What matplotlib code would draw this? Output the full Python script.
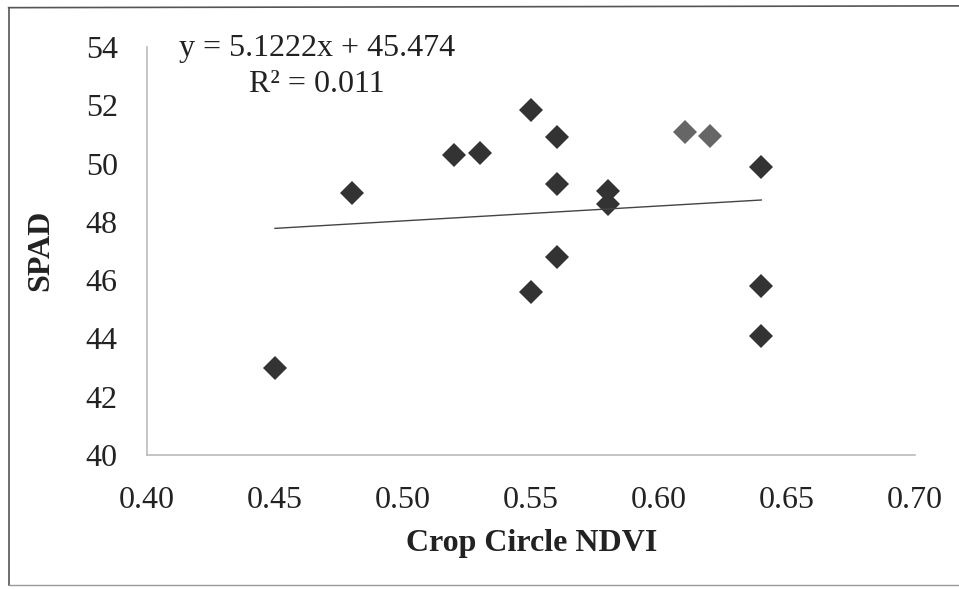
import numpy as np
import matplotlib.pyplot as plt
from matplotlib.lines import Line2D

plt.rcParams['font.family'] = ['Liberation Serif', 'DejaVu Serif']

# Crop Circle NDVI readings against SPAD meter values
ndvi = [0.45, 0.48, 0.52, 0.53, 0.55, 0.56, 0.56, 0.58, 0.58, 0.56, 0.55, 0.64, 0.64, 0.64]
spad = [43.0, 49.0, 50.3, 50.35, 51.85, 50.9, 49.3, 49.05, 48.6, 46.8, 45.6, 49.9, 45.8, 44.1]

# two readings printed lighter
ndvi_light = [0.61, 0.62]
spad_light = [51.1, 50.95]

slope = 5.1222
intercept = 45.474
r2 = 0.011

xticks = [0.40, 0.45, 0.50, 0.55, 0.60, 0.65, 0.70]
yticks = [40, 42, 44, 46, 48, 50, 52, 54]

fig = plt.figure(figsize=(9.59, 5.89), dpi=100)
ax = fig.add_axes([0.1533, 0.2275, 0.8007, 0.6925])

ax.plot(ndvi, spad, 'D', color='#333333', markersize=12, markeredgewidth=0)
ax.plot(ndvi_light, spad_light, 'D', color='#666666', markersize=12, markeredgewidth=0)

# linear trendline across the range of the data
all_x = ndvi + ndvi_light
xs = np.array([min(all_x), max(all_x)])
ax.plot(xs, slope * xs + intercept, color='#444444', lw=1.0)

ax.text(0.221, 0.953, f"y = {slope}x + {intercept}\nR² = {r2}",
        transform=ax.transAxes, ha='center', va='center',
        fontsize=23, color='#222222', linespacing=1.33)

ax.set_xlim(0.40, 0.70)
ax.set_ylim(40, 54)
ax.set_xticks(xticks)
ax.set_xticklabels([f"{t:.2f}" for t in xticks])
ax.set_yticks(yticks)
ax.tick_params(length=0, labelsize=23, colors='#222222')
ax.tick_params(axis='y', pad=21)
ax.tick_params(axis='x', pad=22)

for side in ['top', 'right']:
    ax.spines[side].set_visible(False)
for side in ['left', 'bottom']:
    ax.spines[side].set_color('#bbbbbb')
    ax.spines[side].set_linewidth(1.2)

fig.text(0.042, 0.575, 'SPAD', rotation=90, ha='center', va='center',
         fontsize=23, fontweight='bold', color='#222222')
fig.text(0.554, 0.078, 'Crop Circle NDVI', ha='center', va='center',
         fontsize=23, fontweight='bold', color='#222222')

# frame around the chart
frame = dict(color='#555555', lw=1.2, transform=fig.transFigure)
fig.add_artist(Line2D([0.009, 1.0], [0.987, 0.990], **frame))
fig.add_artist(Line2D([0.009, 0.009], [0.006, 0.987], **frame))
fig.add_artist(Line2D([0.009, 1.0], [0.006, 0.006], color='#999999', lw=1.0,
                      transform=fig.transFigure))

fig.savefig('out.png', dpi=100)
